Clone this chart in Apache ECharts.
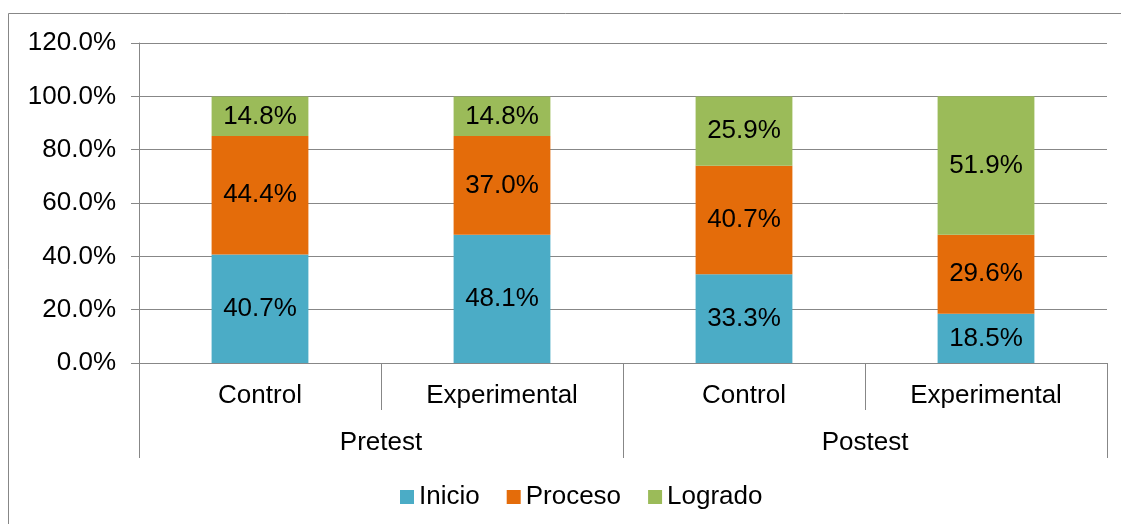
<!DOCTYPE html>
<html>
<head>
<meta charset="utf-8">
<script src="https://cdn.jsdelivr.net/npm/echarts@6/dist/echarts.min.js"></script>
<style>
  html, body { margin: 0; padding: 0; background: #fff; }
  #chart { width: 1121px; height: 524px; }
</style>
</head>
<body>
<div id="chart"></div>
<script>
// datos del gráfico
const categories = ['Control', 'Experimental', 'Control', 'Experimental'];
const groups = ['Pretest', 'Postest'];
const inicio = [40.7, 48.1, 33.3, 18.5];
const proceso = [44.4, 37.0, 40.7, 29.6];
const logrado = [14.8, 14.8, 25.9, 51.9];
const yTicks = [0, 20, 40, 60, 80, 100, 120];

const font = 'Liberation Sans, Arial, sans-serif';
const fs = 26;
const gray = '#878787';

const myChart = echarts.init(document.getElementById('chart'));

const makeSeries = (name, data, color) => ({
  name,
  type: 'bar',
  stack: 'total',
  data,
  barWidth: '40%',
  itemStyle: { color },
  label: {
    show: true,
    position: 'inside',
    color: '#000',
    fontSize: fs,
    fontFamily: font,
    formatter: (p) => p.value.toFixed(1) + '%',
  },
});

const option = {
  animation: false,
  backgroundColor: '#fff',
  graphic: [
    {
      type: 'rect',
      shape: { x: 8.5, y: 13.5, width: 1130, height: 530 },
      style: { fill: 'none', stroke: gray, lineWidth: 1 },
      silent: true,
    },
  ],
  grid: { left: 139, right: 14, top: 43, bottom: 161 },
  legend: {
    top: 479,
    left: 395,
    itemWidth: 14,
    itemHeight: 14,
    itemGap: 27,
    icon: 'rect',
    textStyle: { fontSize: fs, fontFamily: font, color: '#000' },
    data: ['Inicio', 'Proceso', 'Logrado'],
  },
  xAxis: [
    {
      type: 'category',
      data: categories,
      position: 'bottom',
      axisLine: { lineStyle: { color: gray, width: 1 } },
      axisTick: { show: true, interval: 0, length: 47, lineStyle: { color: gray } },
      axisLabel: { interval: 0, margin: 20, fontSize: fs, fontFamily: font, color: '#000' },
    },
    {
      type: 'category',
      data: groups,
      position: 'bottom',
      axisLine: { show: false },
      axisTick: { show: true, interval: 0, length: 95, lineStyle: { color: gray } },
      axisLabel: { interval: 0, margin: 67, fontSize: fs, fontFamily: font, color: '#000' },
    },
  ],
  yAxis: {
    type: 'value',
    min: yTicks[0],
    max: yTicks[yTicks.length - 1],
    interval: 20,
    axisLine: { show: true, lineStyle: { color: gray } },
    axisTick: { show: true, length: 8, lineStyle: { color: gray } },
    splitLine: { lineStyle: { color: gray, width: 1 } },
    axisLabel: {
      margin: 23,
      fontSize: fs,
      fontFamily: font,
      color: '#000',
      formatter: (v) => v.toFixed(1) + '%',
    },
  },
  series: [
    makeSeries('Inicio', inicio, '#4BACC6'),
    makeSeries('Proceso', proceso, '#E46C0A'),
    makeSeries('Logrado', logrado, '#9BBB59'),
  ],
};

option && myChart.setOption(option);
</script>
</body>
</html>
